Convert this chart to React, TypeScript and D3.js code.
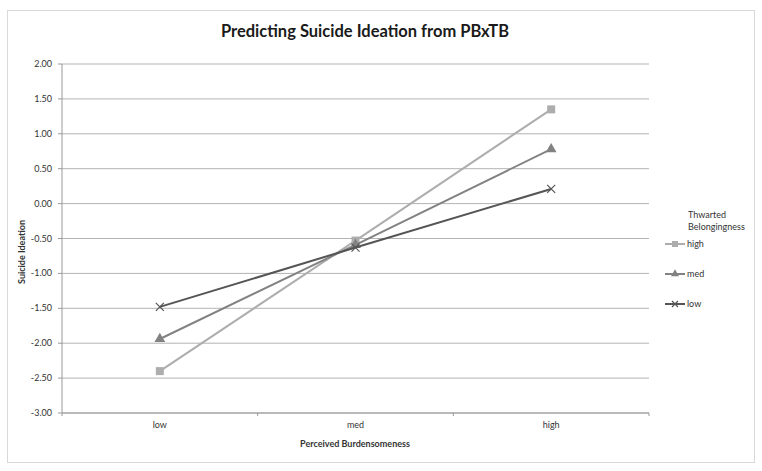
import React from "react";
import * as d3 from "d3";

const categories = ["low", "med", "high"];
const seriesNames = ["high", "med", "low"];
const highValues = [-2.4, -0.53, 1.35];
const medValues = [-1.94, -0.59, 0.78];
const lowValues = [-1.48, -0.63, 0.21];
const yTicks = [2, 1.5, 1, 0.5, 0, -0.5, -1, -1.5, -2, -2.5, -3];

const W = 762, H = 471;
const FONT = "Lato, 'Open Sans', sans-serif";

export default function App() {
  const left = 62, right = 649, top = 64, bottom = 413;
  const x = d3.scaleBand().domain(categories).range([left, right]);
  const y = d3.scaleLinear().domain([-3, 2]).range([bottom, top]);
  const cx = (c: string) => (x(c) as number) + x.bandwidth() / 2;

  const series = [
    { name: seriesNames[0], values: highValues, color: "#adadad", marker: "square" },
    { name: seriesNames[1], values: medValues, color: "#828282", marker: "triangle" },
    { name: seriesNames[2], values: lowValues, color: "#555555", marker: "x" },
  ];
  const line = d3.line<number>().x((_, i) => cx(categories[i])).y((v) => y(v));

  const marker = (type: string, px: number, py: number, color: string, key: string, s = 1) => {
    if (type === "square")
      return <rect key={key} x={px - 4 * s} y={py - 4 * s} width={8 * s} height={8 * s} fill={color} />;
    if (type === "triangle") {
      const p = d3.symbol(d3.symbolTriangle, 50 * s * s)() as string;
      return <path key={key} d={p} transform={`translate(${px},${py})`} fill={color} />;
    }
    const r = 4 * s;
    return (
      <path key={key} d={`M${px - r},${py - r}L${px + r},${py + r}M${px - r},${py + r}L${px + r},${py - r}`}
        stroke={color} strokeWidth={1.2} fill="none" />
    );
  };

  return (
    <svg width={W} height={H} style={{ position: "absolute", left: 0, top: 0, background: "#fff" }}>
      <rect x={7.5} y={10.5} width={747} height={452} fill="#fff" stroke="#d9d9d9" />
      <text x={365} y={37} textAnchor="middle" fontFamily={FONT} fontWeight="bold" fontSize={16.5} fill="#1a1a1a">
        Predicting Suicide Ideation from PBxTB
      </text>
      {yTicks.map((t) => (
        <g key={t}>
          <line x1={left} x2={right} y1={y(t)} y2={y(t)} stroke="#b3b3b3" strokeWidth={1} />
          <line x1={left - 4} x2={left} y1={y(t)} y2={y(t)} stroke="#999" />
          <text x={52} y={y(t) + 3} textAnchor="end" fontFamily={FONT} fontSize={9} fill="#333">
            {t.toFixed(2)}
          </text>
        </g>
      ))}
      <line x1={left} x2={left} y1={top} y2={bottom} stroke="#999" />
      <line x1={left} x2={right} y1={bottom} y2={bottom} stroke="#999" />
      {[left, left + x.bandwidth(), left + 2 * x.bandwidth(), right].map((t, i) => (
        <line key={i} x1={t} x2={t} y1={bottom} y2={bottom + 3} stroke="#999" />
      ))}
      {categories.map((c) => (
        <text key={c} x={cx(c)} y={428} textAnchor="middle" fontFamily={FONT} fontSize={9} fill="#333">{c}</text>
      ))}
      <text x={355} y={447} textAnchor="middle" fontFamily={FONT} fontWeight="bold" fontSize={9} fill="#333">
        Perceived Burdensomeness
      </text>
      <text transform={`translate(25,252) rotate(-90)`} textAnchor="middle" fontFamily={FONT}
        fontWeight="bold" fontSize={9} fill="#333">
        Suicide Ideation
      </text>
      {series.map((s) => (
        <g key={s.name}>
          <path d={line(s.values) as string} fill="none" stroke={s.color} strokeWidth={2} />
          {s.values.map((v, i) => marker(s.marker, cx(categories[i]), y(v), s.color, s.name + i))}
        </g>
      ))}
      <text x={688} y={218} fontFamily={FONT} fontSize={9} fill="#333">Thwarted</text>
      <text x={688} y={230} fontFamily={FONT} fontSize={9} fill="#333">Belongingness</text>
      {series.map((s, i) => {
        const ly = 244 + i * 30;
        return (
          <g key={s.name}>
            <line x1={665} x2={685} y1={ly} y2={ly} stroke={s.color} strokeWidth={2} />
            {marker(s.marker, 675, ly, s.color, "lg" + i, 0.75)}
            <text x={687} y={ly + 3} fontFamily={FONT} fontSize={9} fill="#333">{s.name}</text>
          </g>
        );
      })}
    </svg>
  );
}
